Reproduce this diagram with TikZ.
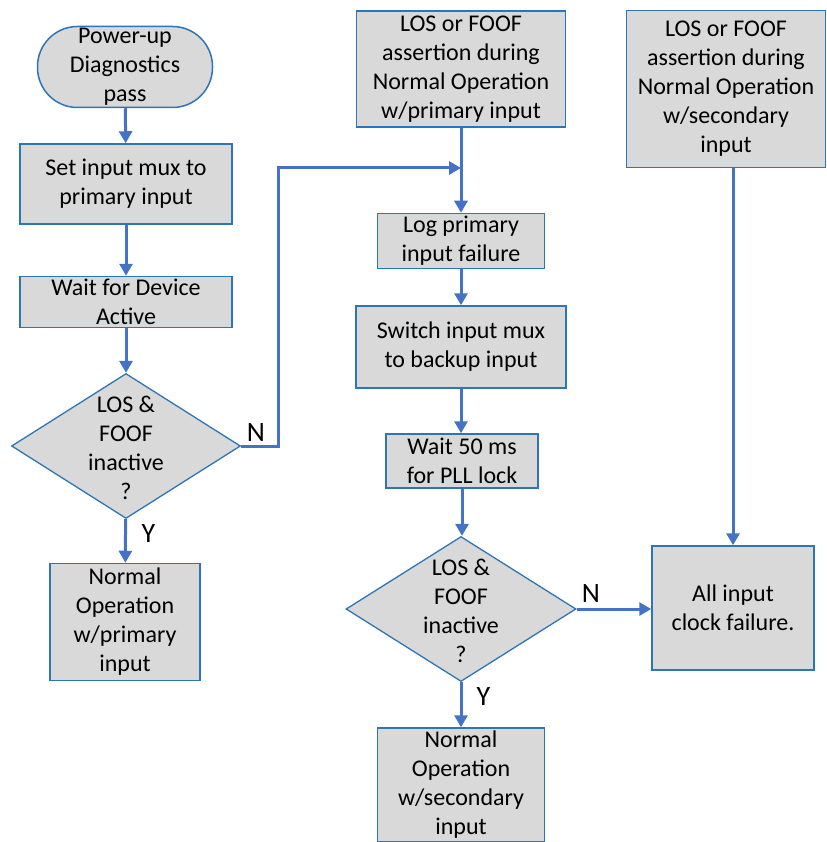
\documentclass[tikz,border=0pt]{standalone}
\usepackage{fontspec}
\setmainfont{Carlito}
\usetikzlibrary{positioning,shapes.geometric,arrows.meta}
\definecolor{boxfill}{HTML}{D9D9D9}
\definecolor{boxline}{HTML}{2E75B6}
\definecolor{flowline}{HTML}{4472C4}

\begin{document}
\begin{tikzpicture}[
  x=1pt,y=-1pt,
  every node/.style={font=\fontsize{24}{29}\selectfont},
  proc-box/.style={draw=boxline,fill=boxfill,line width=1.5pt,rectangle,
    align=center,inner sep=0pt},
  term-box/.style={proc-box,rounded corners=40pt},
  dec-box/.style={draw=boxline,fill=boxfill,line width=1.3pt,diamond,
    inner sep=0pt,minimum width=229pt,minimum height=145pt},
  dec-text/.style={align=center,inner sep=0pt},
  flow-arrow/.style={draw=flowline,line width=3pt,
    -{Triangle[length=12pt,width=13pt]}},
  yn-label/.style={font=\fontsize{28}{32}\selectfont},
  ]
  \useasboundingbox (0,0) rectangle (826,842);

  % left column
  \node [term-box,minimum width=175pt,minimum height=81pt] (powerup-node) at (125,67)
    {Power-up\\Diagnostics\\pass};
  \node [proc-box,minimum width=212pt,minimum height=80pt] (set-mux-node) at (126,184)
    {Set input mux to\\primary input};
  \node [proc-box,minimum width=212pt,minimum height=51pt] (wait-active-node) at (126,302)
    {Wait for Device\\Active};
  \node [dec-box,label={[dec-text,yshift=-2pt]center:{LOS \&\\FOOF\\inactive\\?}}]
    (check1-node) at (126,446) {};
  \node [proc-box,minimum width=150pt,minimum height=117pt] (normal-pri-node) at (125,622)
    {Normal\\Operation\\w/primary\\input};

  % middle column
  \node [proc-box,minimum width=209pt,minimum height=116pt] (assert-pri-node) at (461,69)
    {LOS or FOOF\\assertion during\\Normal Operation\\w/primary input};
  \node [proc-box,minimum width=167pt,minimum height=55pt] (log-fail-node) at (461,241)
    {Log primary\\input failure};
  \node [proc-box,minimum width=210pt,minimum height=82pt] (switch-mux-node) at (461,347)
    {Switch input mux\\to backup input};
  \node [proc-box,minimum width=152pt,minimum height=54pt] (wait-pll-node) at (462,461)
    {Wait 50 ms\\for PLL lock};
  \node [dec-box,minimum width=230pt,
    label={[dec-text,yshift=-2pt]center:{LOS \&\\FOOF\\inactive\\?}}]
    (check2-node) at (461,609) {};
  \node [proc-box,minimum width=167pt,minimum height=114pt] (normal-sec-node) at (461,785)
    {Normal\\Operation\\w/secondary\\input};

  % right column
  \node [proc-box,minimum width=199pt,minimum height=157pt] (assert-sec-node) at (726,89)
    {LOS or FOOF\\assertion during\\Normal Operation\\w/secondary\\input};
  \node [proc-box,minimum width=162pt,minimum height=124pt] (all-fail-node) at (733,608)
    {All input\\clock failure.};

  % connectors
  \draw [flow-arrow] (powerup-node) -- (set-mux-node);
  \draw [flow-arrow] (set-mux-node) -- (wait-active-node);
  \draw [flow-arrow] (wait-active-node) -- (check1-node);
  \draw [flow-arrow] (check1-node) -- (normal-pri-node);
  \node [yn-label,anchor=west] (y1-node) at (138,534) {Y};
  \coordinate (no-bend) at (278,168);
  \coordinate (no-merge) at (assert-pri-node.south |- no-bend);
  \draw [flow-arrow] (check1-node.east) -| (no-bend) -- (no-merge);
  \node [yn-label,anchor=south] (n1-node) at (256,445) {N};

  \draw [flow-arrow] (assert-pri-node) -- (log-fail-node);
  \draw [flow-arrow] (log-fail-node) -- (switch-mux-node);
  \draw [flow-arrow] (switch-mux-node.south) -- (switch-mux-node.south |- wait-pll-node.north);
  \draw [flow-arrow] (wait-pll-node.south) -- (wait-pll-node.south |- check2-node.north);
  \draw [flow-arrow] (check2-node) -- (normal-sec-node);
  \node [yn-label,anchor=west] (y2-node) at (473,697) {Y};
  \draw [flow-arrow] (check2-node.east) -- (check2-node.east -| all-fail-node.west);
  \node [yn-label,anchor=south] (n2-node) at (591,606) {N};

  \draw [flow-arrow] (all-fail-node.north |- assert-sec-node.south) -- (all-fail-node.north);

\end{tikzpicture}
\end{document}
